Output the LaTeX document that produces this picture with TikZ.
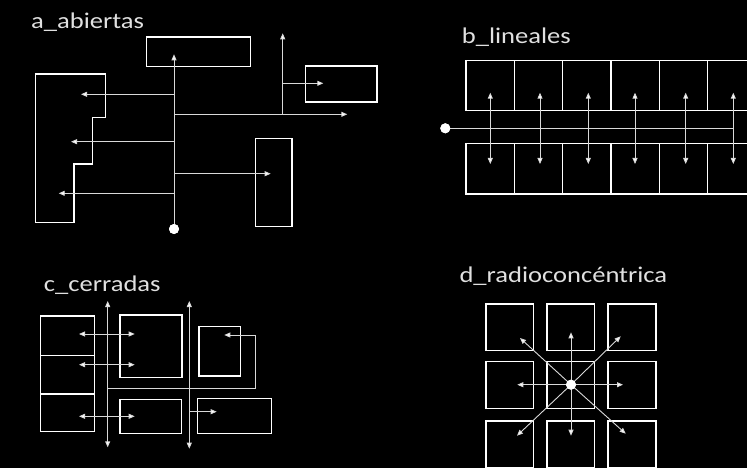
\documentclass[tikz,border=0pt]{standalone}
\usepackage{fontspec}
\setmainfont{Carlito}
\usetikzlibrary{arrows.meta}
\begin{document}
\begin{tikzpicture}[x=1pt,y=-1pt,
  box/.style={draw=white, line width=1.3pt, inner sep=0pt, outer sep=0pt},
  conn/.style={draw=white!85!black, line width=0.9pt},
  arr/.style={conn, -{Triangle[length=6pt,width=5pt,fill=white]}},
  darr/.style={conn, {Triangle[length=6pt,width=5pt,fill=white]}-{Triangle[length=6pt,width=5pt,fill=white]}},
  dot/.style={circle, fill=white, inner sep=0pt, minimum size=10pt},
  title/.style={anchor=base west, text=white!88!black, font=\fontsize{22.5}{26}\selectfont, inner sep=0pt}]
\fill[black] (0,0) rectangle (747,468);
\useasboundingbox (0,0) rectangle (747,468);
\clip (0,0) rectangle (747,468);

% ---------- a_abiertas ----------
\node[title] (ta) at (31,29) {\scalebox{1.18}[1]{a\_abiertas}};
\node[box, minimum width=103.6pt, minimum height=29.7pt] (topA) at (198.5,51.85) {};
\node[box, minimum width=71.3pt, minimum height=36pt] (rightA) at (341.35,84) {};
\node[box, minimum width=36.7pt, minimum height=88pt] (tallA) at (273.65,182.7) {};
\draw[box] (35.7,74) -- (105.7,74) -- (105.7,117.7) -- (92.7,117.7) -- (92.7,164)
  -- (74,164) -- (74,222.3) -- (35.7,222.3) -- cycle;
\node[dot] (dA) at (174,229) {};
\coordinate (aTop) at (174,54.3);
\coordinate (a1) at (174,94.3);   \coordinate (a1e) at (81,94.3);
\coordinate (a2) at (174,114.3);  \coordinate (a2e) at (347.3,114.3);
\coordinate (a3) at (174,141.7);  \coordinate (a3e) at (71,141.7);
\coordinate (a4) at (174,173.7);  \coordinate (a4e) at (270.7,173.7);
\coordinate (a5) at (174,193.3);  \coordinate (a5e) at (58.7,193.3);
\coordinate (aU0) at (282.7,114.3); \coordinate (aU1) at (282.7,33.3);
\coordinate (aR0) at (282.7,83.3);  \coordinate (aR1) at (323.3,83.3);
\draw[arr] (dA.center) -- (aTop);
\draw[arr] (a1) -- (a1e);
\draw[arr] (a2) -- (a2e);
\draw[arr] (a3) -- (a3e);
\draw[arr] (a4) -- (a4e);
\draw[arr] (a5) -- (a5e);
\draw[arr] (aU0) -- (aU1);
\draw[arr] (aR0) -- (aR1);
\node[dot] at (dA) {};

% ---------- b_lineales ----------
\node[title] (tb) at (461.7,43.3) {\scalebox{1.18}[1]{b\_lineales}};
\foreach \i in {0,...,6} {
  \node[box, minimum width=48.3pt, minimum height=50.4pt] (bt\i) at ({466+48.3*(\i+0.5)},85.5) {};
  \node[box, minimum width=48.3pt, minimum height=50.3pt] (bb\i) at ({466+48.3*(\i+0.5)},168.85) {};
}
\node[dot] (dB) at (445.3,128.3) {};
\coordinate (bEnd) at (733.3,128.3);
\draw[conn] (dB.center) -- (bEnd);
\foreach \x [count=\k] in {490.3,540,588.3,635,685.7,733.3} {
  \coordinate (bu\k) at (\x,92.7);
  \coordinate (bd\k) at (\x,164);
  \draw[darr] (bu\k) -- (bd\k);
}
\node[dot] at (dB) {};

% ---------- c_cerradas ----------
\node[title] (tc) at (43.7,291.7) {\scalebox{1.18}[1]{c\_cerradas}};
\node[box, minimum width=54.4pt, minimum height=39.7pt] (cL1) at (67.5,335.85) {};
\node[box, minimum width=54.4pt, minimum height=38.3pt] (cL2) at (67.5,374.85) {};
\node[box, minimum width=54.4pt, minimum height=37.7pt] (cL3) at (67.5,412.85) {};
\node[box, minimum width=62pt, minimum height=62.3pt] (cB1) at (151,346.15) {};
\node[box, minimum width=41.7pt, minimum height=49.7pt] (cB2) at (219.85,351.15) {};
\node[box, minimum width=61.7pt, minimum height=34.4pt] (cB3) at (150.85,416.5) {};
\node[box, minimum width=74.4pt, minimum height=35.4pt] (cB4) at (234.5,416) {};
\coordinate (cv1t) at (107.7,301);   \coordinate (cv1b) at (107.7,447.3);
\coordinate (cv2t) at (189.3,301);   \coordinate (cv2b) at (189.3,448.7);
\draw[darr] (cv1t) -- (cv1b);
\draw[darr] (cv2t) -- (cv2b);
\foreach \y [count=\k] in {334,364.7,416.3} {
  \coordinate (ch\k l) at (79,\y);
  \coordinate (ch\k r) at (134.7,\y);
  \draw[darr] (ch\k l) -- (ch\k r);
}
\coordinate (cp0) at (107.7,388.3);
\coordinate (cp1) at (255.3,335);
\coordinate (cp2) at (224.3,335);
\draw[arr] (cp0) -| (cp1) -- (cp2);
\coordinate (cq0) at (189.3,411.7);
\coordinate (cq1) at (216.7,411.7);
\draw[arr] (cq0) -- (cq1);

% ---------- d_radioconcentrica ----------
\node[title] (td) at (459.3,282.7) {\scalebox{1.18}[1]{d\_radioconcéntrica}};
\foreach \x/\w [count=\i] in {509.85/47.7,570.85/47.7,632/48} {
  \foreach \y/\h [count=\j] in {327.35/46.7,385/46.6,444.15/46.3} {
    \node[box, minimum width=\w pt, minimum height=\h pt] (dq\i\j) at (\x,\y) {};
  }
}
\node[dot] (dD) at (571,384.7) {};
\foreach \tx/\ty [count=\k] in {571/332.3, 571/435.7, 517.3/384.7, 623/384.7, 520/338, 620.7/336.3, 517/435.7, 625.7/433.7} {
  \coordinate (dt\k) at (\tx,\ty);
  \draw[arr] (dD.center) -- (dt\k);
}
\node[dot] at (dD) {};
\end{tikzpicture}
\end{document}
